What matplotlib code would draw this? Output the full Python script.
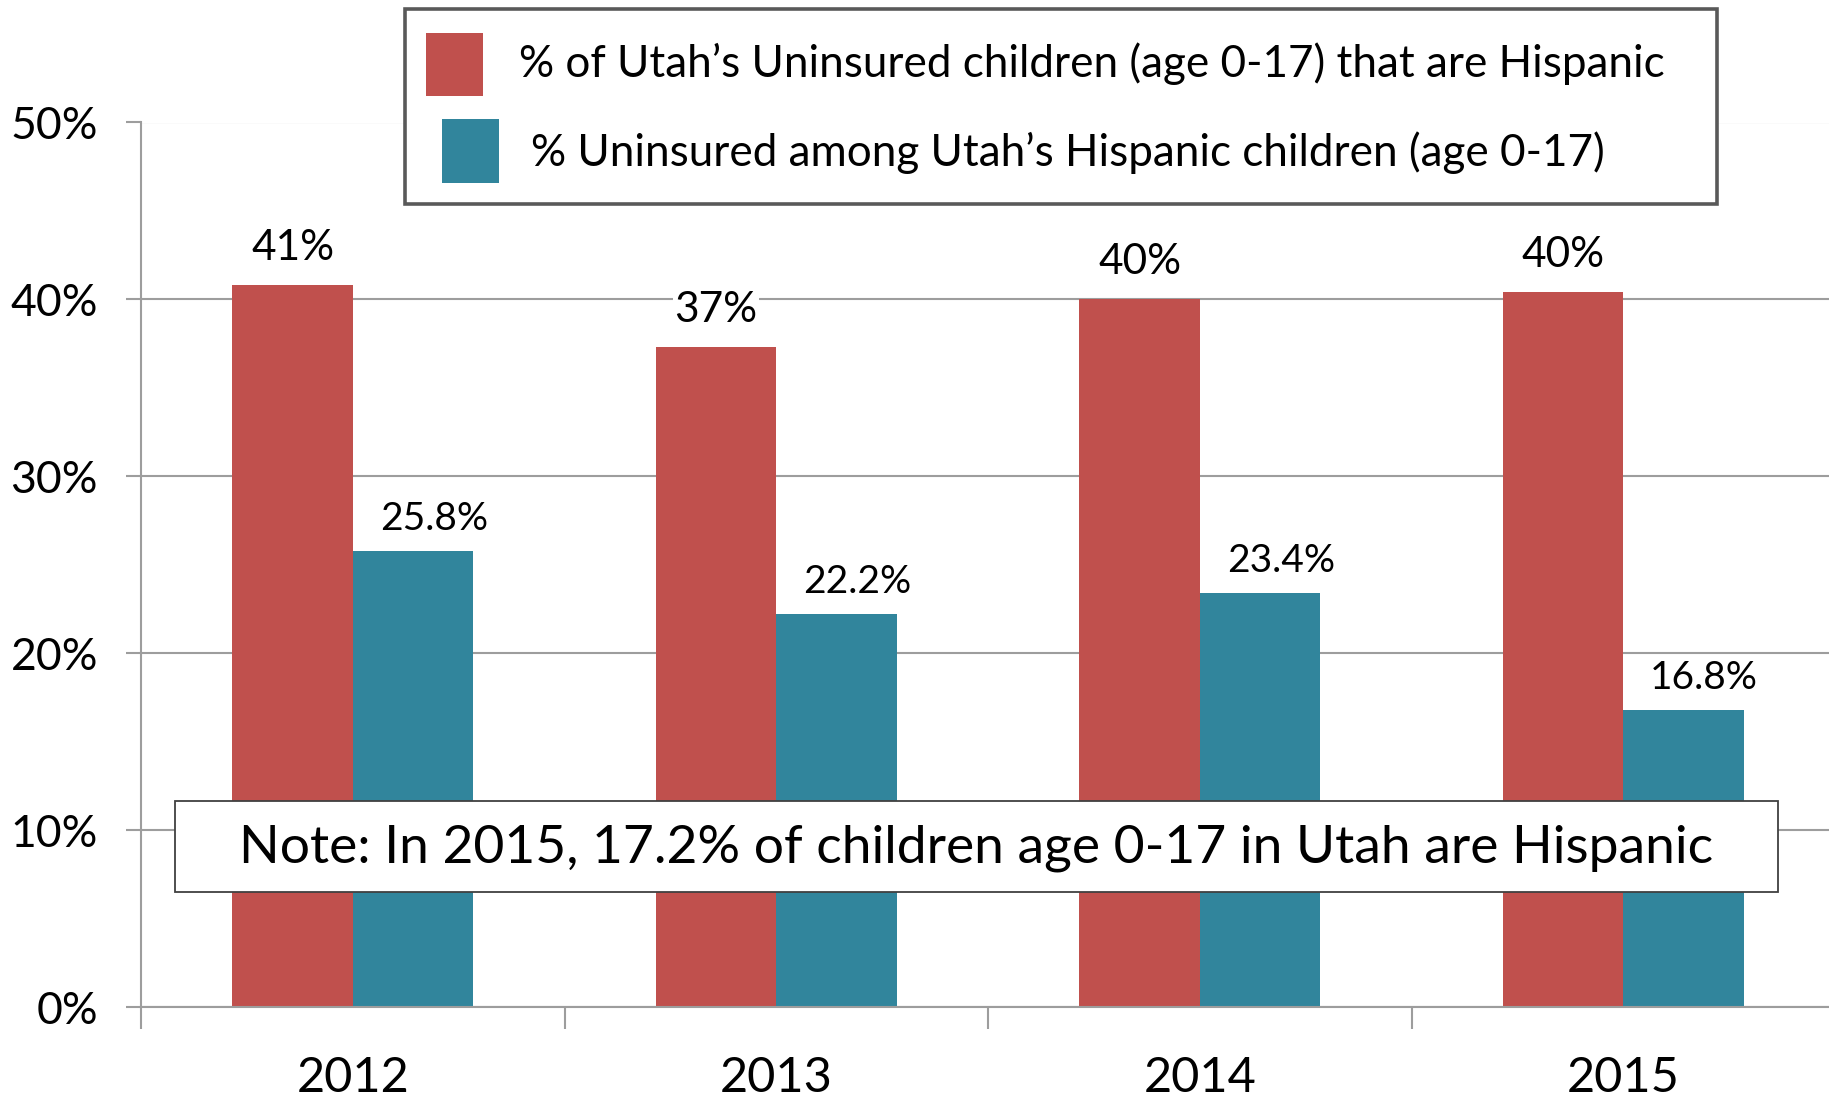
import matplotlib
matplotlib.use("Agg")
import matplotlib.pyplot as plt
from matplotlib.patches import Rectangle

plt.rcParams['font.family'] = ['Lato', 'DejaVu Sans']

years = ['2012', '2013', '2014', '2015']
pct_uninsured_hispanic = [40.8, 37.3, 40.0, 40.4]
pct_hispanic_uninsured = [25.8, 22.2, 23.4, 16.8]
red_labels = ['41%', '37%', '40%', '40%']
teal_labels = ['25.8%', '22.2%', '23.4%', '16.8%']
legend_labels = ['% of Utah\u2019s Uninsured children (age 0-17) that are Hispanic',
                 '% Uninsured among Utah\u2019s Hispanic children (age 0-17)']
note_text = 'Note: In 2015, 17.2% of children age 0-17 in Utah are Hispanic'
yticks = [0, 10, 20, 30, 40, 50]

RED = '#C0504D'
TEAL = '#31859C'
GRID = '#9D9D9D'

W, H = 1829, 1096
fig = plt.figure(figsize=(W / 100, H / 100), dpi=100)


def fx(px):
    return px / W


def fy(py):
    return 1 - py / H


# axes placed to match the original plot area
ax = fig.add_axes([fx(141), fy(1007), fx(1694), fy(122.5) - fy(1007)])

x = list(range(len(years)))
bw = 0.284
ax.bar([i - bw / 2 for i in x], pct_uninsured_hispanic, bw, color=RED, zorder=2)
ax.bar([i + bw / 2 for i in x], pct_hispanic_uninsured, bw, color=TEAL, zorder=2)

# data labels
for i in x:
    ax.annotate(red_labels[i], (i - bw / 2, pct_uninsured_hispanic[i]), xytext=(0, 27),
                textcoords='offset points', ha='center', va='center', fontsize=30.5,
                bbox=dict(fc='white', ec='none', pad=1), zorder=3)
    ax.annotate(teal_labels[i], (i + bw / 2, pct_hispanic_uninsured[i]), xytext=(15, 23),
                textcoords='offset points', ha='center', va='center', fontsize=28,
                bbox=dict(fc='white', ec='none', pad=1), zorder=3)

ax.set_xlim(-0.5, len(years) - 0.5)
ax.set_ylim(0, 50)
ax.set_yticks(yticks)
ax.set_yticklabels(['%d%%' % t for t in yticks])
ax.set_xticks(x)
ax.set_xticklabels(years)
ax.set_xticks([i - 0.5 for i in range(len(years) + 1)], minor=True)

ax.grid(axis='y', color=GRID, lw=1.5, zorder=0)
ax.set_axisbelow(True)
for s in ['top', 'right']:
    ax.spines[s].set_visible(False)
for s in ['left', 'bottom']:
    ax.spines[s].set_color(GRID)
    ax.spines[s].set_linewidth(1.5)

ax.tick_params(axis='y', length=11, width=1.5, color=GRID, pad=20, labelsize=32)
ax.tick_params(axis='x', which='major', length=0, pad=35, labelsize=35)
ax.tick_params(axis='x', which='minor', length=16, width=1.5, color=GRID)

# legend box, drawn by hand to keep the offset swatches
fig.add_artist(Rectangle((fx(405), fy(204)), fx(1312), fy(9) - fy(204), transform=fig.transFigure,
                         fc='white', ec='#595959', lw=2.6, zorder=5))
fig.add_artist(Rectangle((fx(426), fy(96)), fx(57), fy(33) - fy(96), transform=fig.transFigure,
                         fc=RED, ec='none', zorder=6))
fig.add_artist(Rectangle((fx(442), fy(183)), fx(57), fy(119) - fy(183), transform=fig.transFigure,
                         fc=TEAL, ec='none', zorder=6))
fig.text(fx(519), fy(64), legend_labels[0], fontsize=31.7, va='center', ha='left', zorder=7)
fig.text(fx(531), fy(153), legend_labels[1], fontsize=31.7, va='center', ha='left', zorder=7)

# note box
fig.add_artist(Rectangle((fx(175), fy(892)), fx(1603), fy(801) - fy(892), transform=fig.transFigure,
                         fc='white', ec='#404040', lw=1.3, zorder=5))
fig.text(fx(976), fy(848), note_text, fontsize=38.4, va='center', ha='center', zorder=7)

fig.savefig('out.png', dpi=100)
